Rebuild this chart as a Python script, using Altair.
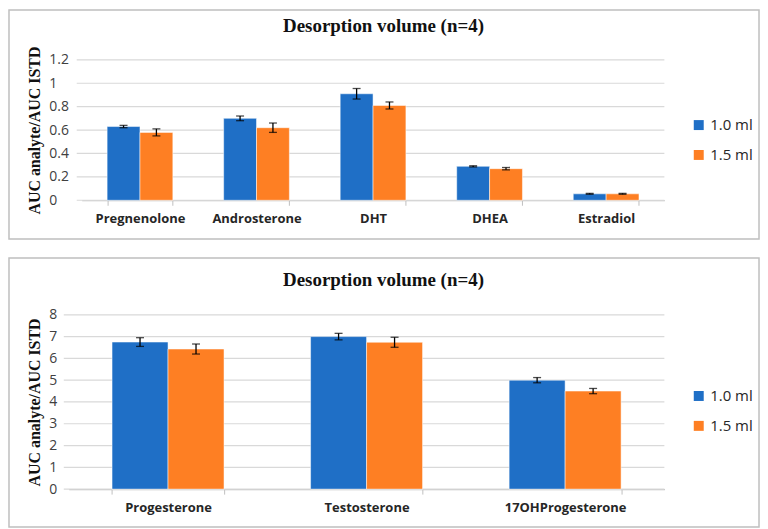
import altair as alt
import pandas as pd

vols = ["1.0 ml", "1.5 ml"]
colors = ["#1F6FC6", "#FE7F23"]

top_cats = ["Pregnenolone", "Androsterone", "DHT", "DHEA", "Estradiol"]
top_10 = [0.63, 0.70, 0.91, 0.29, 0.055]
top_10_err = [0.01, 0.02, 0.045, 0.005, 0.004]
top_15 = [0.58, 0.62, 0.81, 0.27, 0.055]
top_15_err = [0.03, 0.04, 0.03, 0.01, 0.004]
top_ticks = [0, 0.2, 0.4, 0.6, 0.8, 1.0, 1.2]

bot_cats = ["Progesterone", "Testosterone", "17OHProgesterone"]
bot_10 = [6.75, 7.0, 5.0]
bot_10_err = [0.2, 0.15, 0.12]
bot_15 = [6.43, 6.74, 4.5]
bot_15_err = [0.23, 0.23, 0.12]
bot_ticks = [0, 1, 2, 3, 4, 5, 6, 7, 8]

title_text = "Desorption volume (n=4)"
y_title = "AUC analyte/AUC ISTD"

W = 598  # shared plot width of both panels


def make_df(cats, v10, e10, v15, e15):
    rows = []
    for c, v, e in zip(cats, v10, e10):
        rows.append({"cat": c, "vol": vols[0], "val": v, "lo": v - e, "hi": v + e})
    for c, v, e in zip(cats, v15, e15):
        rows.append({"cat": c, "vol": vols[1], "val": v, "lo": v - e, "hi": v + e})
    return pd.DataFrame(rows)


def panel(df, cats, ticks, x0, h, frame, legend_xy, title_xy):
    xaxis = alt.Axis(tickBand="extent", labelAngle=0, labelFont="Open Sans",
                     labelFontWeight="bold", labelFontSize=13, labelColor="#262626",
                     labelPadding=7, tickSize=5, tickColor="#bfbfbf",
                     domainColor="#bfbfbf", domainWidth=1.2, grid=False)
    xscale = alt.Scale(range=[x0, W], paddingInner=0.436, paddingOuter=0.218)
    x = alt.X("cat:N", sort=cats, title=None, scale=xscale, axis=xaxis)
    xo = alt.XOffset("vol:N", sort=vols, scale=alt.Scale(paddingInner=0, paddingOuter=0))
    yscale = alt.Scale(domain=[ticks[0], ticks[-1]], nice=False)
    yaxis = alt.Axis(values=ticks, format="~g",
                     labelOverlap=False, labelFont="Open Sans",
                     labelFontSize=14, labelColor="#404040",
                     labelAlign="left", labelPadding=20,
                     ticks=False, domain=False, grid=False,
                     titleFont="Liberation Serif", titleFontWeight="bold",
                     titleFontSize=16, titleColor="#111111", titlePadding=6)
    color = alt.Color("vol:N", sort=vols, title=None,
                      scale=alt.Scale(domain=vols, range=colors),
                      legend=alt.Legend(orient="none", legendX=legend_xy[0],
                                        legendY=legend_xy[1], symbolType="square",
                                        symbolSize=100, symbolStrokeWidth=0,
                                        labelFont="Open Sans", labelFontSize=15,
                                        labelColor="#262626", labelOffset=4,
                                        rowPadding=14))
    base = alt.Chart(df)
    grid = alt.Chart(pd.DataFrame({"v": ticks})).mark_rule(
        color="#d9d9d9", strokeWidth=1.2).encode(
        y=alt.Y("v:Q", title=y_title, scale=yscale, axis=yaxis),
        x=alt.value(x0 - 5), x2=alt.value(W))
    bars = base.mark_bar(stroke="white", strokeWidth=0.5).encode(
        x=x, xOffset=xo, y=alt.Y("val:Q", title=y_title, scale=yscale, axis=yaxis), color=color)
    rule = base.mark_rule(color="black", strokeWidth=1.3).encode(
        x=x, xOffset=xo,
        y=alt.Y("lo:Q", title=y_title, scale=yscale, axis=yaxis), y2="hi:Q")
    cap_lo = base.mark_tick(color="black", orient="horizontal", size=8, thickness=1.3).encode(
        x=x, xOffset=xo, y=alt.Y("lo:Q", title=y_title, scale=yscale, axis=yaxis))
    cap_hi = base.mark_tick(color="black", orient="horizontal", size=8, thickness=1.3).encode(
        x=x, xOffset=xo, y=alt.Y("hi:Q", title=y_title, scale=yscale, axis=yaxis))
    box = alt.Chart(pd.DataFrame({"k": [0]})).mark_rect(
        fillOpacity=0, stroke="#bfbfbf", strokeWidth=1.5).encode(
        x=alt.value(frame[0]), x2=alt.value(frame[1]),
        y=alt.value(frame[2]), y2=alt.value(frame[3]))
    ttl = alt.Chart(pd.DataFrame({"t": [title_text]})).mark_text(
        font="Liberation Serif", fontWeight="bold", fontSize=19, color="#111111",
        align="center", baseline="middle").encode(
        text="t:N", x=alt.value(title_xy[0]), y=alt.value(title_xy[1]))
    return alt.layer(box, ttl, grid, bars, rule, cap_lo, cap_hi).properties(width=W, height=h)


top_df = make_df(top_cats, top_10, top_10_err, top_15, top_15_err)
bot_df = make_df(bot_cats, bot_10, bot_10_err, bot_15, bot_15_err)

top = panel(top_df, top_cats, top_ticks, 13, 141, (-60, 693, -50, 180), (625, 58), (316, -34))
bot = panel(bot_df, bot_cats, bot_ticks, 0, 175, (-60, 693, -57, 213), (625, 74), (316, -35))

chart = alt.vconcat(top, bot, spacing=17).resolve_scale(
    color="independent", x="independent", y="independent",
    xOffset="independent").resolve_legend(
    color="independent").properties(padding=0).configure_view(stroke=None)

chart.save("out.html", embed_options={"renderer": "svg", "actions": False})
